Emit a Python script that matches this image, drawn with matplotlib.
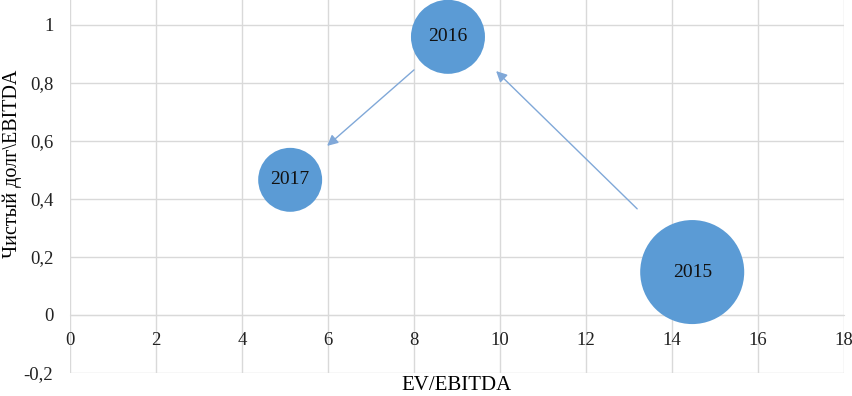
import matplotlib.pyplot as plt

plt.rcParams['font.family'] = ['Liberation Serif', 'DejaVu Serif']

years = ['2015', '2016', '2017']
ev_ebitda = [14.47, 8.79, 5.12]
net_debt_ebitda = [0.148, 0.959, 0.466]
bubble_size = [5610, 2840, 2120]

# arrows drawn by hand in the original chart (start -> end)
arrow_start = [(13.19, 0.366), (8.0, 0.845)]
arrow_end = [(9.91, 0.841), (5.98, 0.583)]

fig = plt.figure(figsize=(8.53, 3.96), dpi=100)
ax = fig.add_axes([70 / 853, 23 / 396, 774 / 853, 373 / 396])

ax.scatter(ev_ebitda, net_debt_ebitda, s=bubble_size, color='#5b9bd5',
           edgecolors='none', zorder=3, clip_on=False)
for x, y, t in zip(ev_ebitda, net_debt_ebitda, years):
    ax.text(x, y, t, ha='center', va='center', fontsize=14, color='#111111', zorder=4)

for s, e in zip(arrow_start, arrow_end):
    ax.annotate('', xy=e, xytext=s,
                arrowprops=dict(arrowstyle='-|>', color='#80a8d8', lw=1.0,
                                mutation_scale=16, shrinkA=0, shrinkB=0),
                zorder=2)

ax.set_xlim(0, 18)
ax.set_ylim(-0.2, 1.086)
ax.set_xticks(range(0, 19, 2))
ax.set_yticks([-0.2, 0, 0.2, 0.4, 0.6, 0.8, 1.0])
ax.set_yticklabels(['-0,2', '0', '0,2', '0,4', '0,6', '0,8', '1'])
ax.grid(True, color='#d9d9d9', lw=1.0, zorder=0)
ax.set_axisbelow(True)

for side in ['top', 'right', 'left']:
    ax.spines[side].set_visible(False)
ax.spines['bottom'].set_position(('data', 0))
ax.spines['bottom'].set_color('#d9d9d9')
ax.tick_params(length=0, labelsize=13.5, colors='#222222')
ax.tick_params(axis='x', pad=12)
ax.tick_params(axis='y', pad=12)

fig.text(457 / 853, 1 / 396, 'EV/EBITDA', ha='center', va='bottom', fontsize=15)
fig.text(12 / 853, 1 - 164 / 396, 'Чистый долг\\EBITDA', rotation=90, ha='center', va='center', fontsize=14.5)

fig.savefig('out.png', dpi=100)
